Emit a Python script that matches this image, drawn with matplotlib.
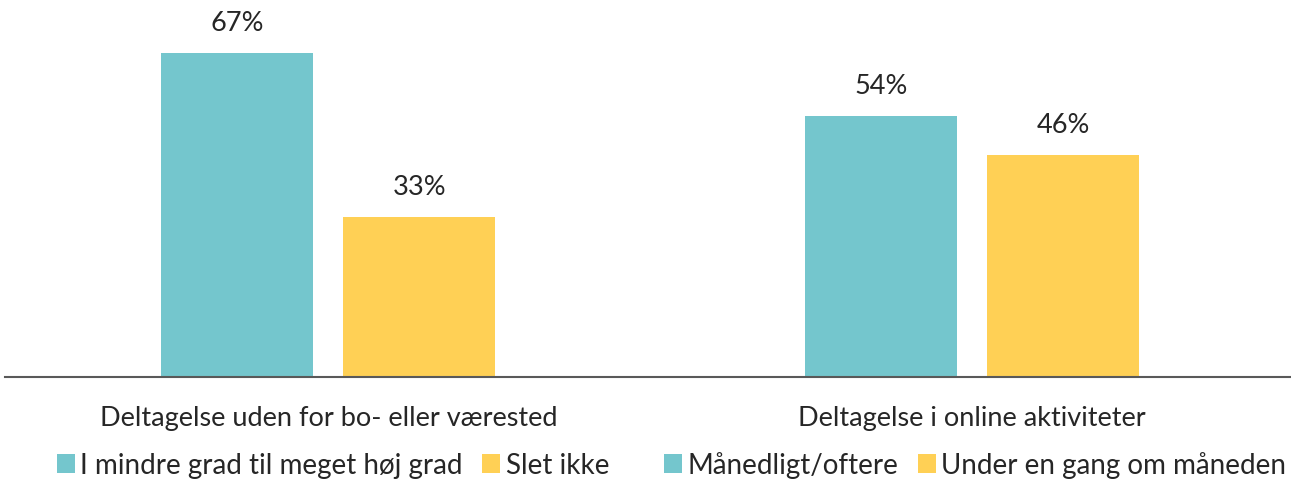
import numpy as np
import matplotlib
matplotlib.use('Agg')
from matplotlib import pyplot as plt
from matplotlib.legend import Legend

plt.rcParams['font.family'] = ['Lato', 'DejaVu Sans']

groups = ['Deltagelse uden for bo- eller værested', 'Deltagelse i online aktiviteter']
first_vals = [67, 54]
second_vals = [33, 46]
legend_labels = [['I mindre grad til meget høj grad', 'Slet ikke'],
                 ['Månedligt/oftere', 'Under en gang om måneden']]

teal = '#74C6CD'
yellow = '#FFD055'
txt = '#262626'

fig = plt.figure(figsize=(12.91, 4.81), dpi=100)
ax = fig.add_axes([5 / 1291, 103 / 481, 1 - 5 / 1291, 378 / 481])

x = np.arange(len(groups))
w = 0.236
off = 0.1413
b1 = ax.bar(x - off, first_vals, w, color=teal)
b2 = ax.bar(x + off, second_vals, w, color=yellow)

for bars, vals in ((b1, first_vals), (b2, second_vals)):
    for r, v in zip(bars, vals):
        ax.annotate(f'{v}%', (r.get_x() + r.get_width() / 2, v), xytext=(0, 13),
                    textcoords='offset points', ha='center', va='bottom',
                    fontsize=19.5, color=txt)

ax.set_xlim(-0.502, 1.495)
ax.set_ylim(0, 78.2)
ax.set_yticks([])
ax.set_xticks(x)
ax.set_xticklabels(groups, fontsize=19.5, color=txt)
ax.tick_params(axis='x', length=0, pad=20)
for s in ['top', 'right', 'left']:
    ax.spines[s].set_visible(False)
ax.spines['bottom'].set_color('#595959')
ax.spines['bottom'].set_linewidth(1.5)

# one legend under each group
centers = [333, 975]
for i in range(len(groups)):
    leg = Legend(ax, [b1[i], b2[i]], legend_labels[i], loc='center',
                 bbox_to_anchor=(centers[i] / 1291, 15 / 481),
                 bbox_transform=fig.transFigure, ncol=2, frameon=False,
                 fontsize=20, handlelength=0.65, handleheight=0.65,
                 handletextpad=0.2, columnspacing=0.7, borderpad=0)
    for t in leg.get_texts():
        t.set_color(txt)
    ax.add_artist(leg)

fig.savefig('out.png', dpi=100)
